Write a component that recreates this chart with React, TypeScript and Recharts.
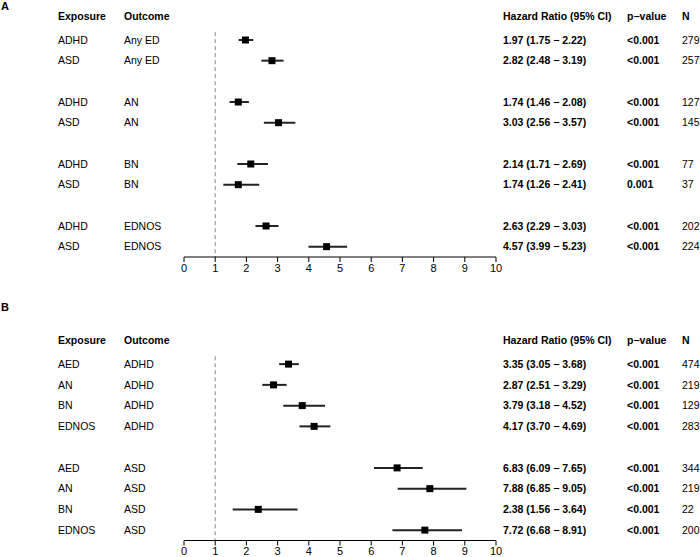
import React from 'react';
import { ScatterChart, Scatter, XAxis, YAxis, ErrorBar, ReferenceLine } from 'recharts';

// Panel A: neurodevelopmental exposure -> eating disorder outcome
const exposuresA = ['ADHD', 'ASD', 'ADHD', 'ASD', 'ADHD', 'ASD', 'ADHD', 'ASD'];
const outcomesA = ['Any ED', 'Any ED', 'AN', 'AN', 'BN', 'BN', 'EDNOS', 'EDNOS'];
const groupsA = [0, 0, 1, 1, 2, 2, 3, 3];
const hrA = [1.97, 2.82, 1.74, 3.03, 2.14, 1.74, 2.63, 4.57];
const loA = [1.75, 2.48, 1.46, 2.56, 1.71, 1.26, 2.29, 3.99];
const hiA = [2.22, 3.19, 2.08, 3.57, 2.69, 2.41, 3.03, 5.23];
const pA = ['<0.001', '<0.001', '<0.001', '<0.001', '<0.001', '0.001', '<0.001', '<0.001'];
const nA = [279, 257, 127, 145, 77, 37, 202, 224];

// Panel B: eating disorder exposure -> neurodevelopmental outcome
const exposuresB = ['AED', 'AN', 'BN', 'EDNOS', 'AED', 'AN', 'BN', 'EDNOS'];
const outcomesB = ['ADHD', 'ADHD', 'ADHD', 'ADHD', 'ASD', 'ASD', 'ASD', 'ASD'];
const groupsB = [0, 0, 0, 0, 1, 1, 1, 1];
const hrB = [3.35, 2.87, 3.79, 4.17, 6.83, 7.88, 2.38, 7.72];
const loB = [3.05, 2.51, 3.18, 3.7, 6.09, 6.85, 1.56, 6.68];
const hiB = [3.68, 3.29, 4.52, 4.69, 7.65, 9.05, 3.64, 8.91];
const pB = ['<0.001', '<0.001', '<0.001', '<0.001', '<0.001', '<0.001', '<0.001', '<0.001'];
const nB = [474, 219, 129, 283, 344, 219, 22, 200];

const xTicks = [0, 1, 2, 3, 4, 5, 6, 7, 8, 9, 10];
const headers = ['Exposure', 'Outcome', 'Hazard Ratio (95% CI)', 'p\u2212value', 'N'];

const HEADER_ROW = -0.15;
const colX = [58, 124, 503, 627, 682];
const FONT = '"Liberation Sans", Arial, Helvetica, sans-serif';

type Row = {
  row: number;
  hr: number;
  ci: [number, number];
  exposure: string;
  outcome: string;
  label: string;
  p: string;
  n: number;
};

const buildRows = (
  exposures: string[], outcomes: string[], groups: number[],
  hr: number[], lo: number[], hi: number[], p: string[], n: number[]
): Row[] =>
  hr.map((v, i) => ({
    row: i + groups[i] + 1,
    hr: v,
    ci: [+(v - lo[i]).toFixed(3), +(hi[i] - v).toFixed(3)],
    exposure: exposures[i],
    outcome: outcomes[i],
    label: `${v.toFixed(2)} (${lo[i].toFixed(2)} \u2212 ${hi[i].toFixed(2)})`,
    p: p[i],
    n: n[i],
  }));

const rowsA = buildRows(exposuresA, outcomesA, groupsA, hrA, loA, hiA, pA, nA);
const rowsB = buildRows(exposuresB, outcomesB, groupsB, hrB, loB, hiB, pB, nB);

const RowTick = (props: any) => {
  const { y, payload, rows } = props;
  const v = payload?.value;
  const common = { fontSize: 10.5, fontFamily: FONT, fill: '#000', dy: '0.35em' };
  if (Math.abs(v - HEADER_ROW) < 1e-6) {
    return (
      <g>
        {headers.map((h, i) => (
          <text key={h} x={colX[i]} y={y} fontWeight="bold" {...common}>{h}</text>
        ))}
      </g>
    );
  }
  const r: Row | undefined = rows.find((d: Row) => d.row === v);
  if (!r) return <g />;
  return (
    <g>
      <text x={colX[0]} y={y} {...common}>{r.exposure}</text>
      <text x={colX[1]} y={y} {...common}>{r.outcome}</text>
      <text x={colX[2]} y={y} fontWeight="bold" {...common}>{r.label}</text>
      <text x={colX[3]} y={y} fontWeight="bold" {...common}>{r.p}</text>
      <text x={colX[4]} y={y} {...common}>{r.n}</text>
    </g>
  );
};

const Marker = (props: any) => {
  const { cx, cy } = props;
  return <rect x={cx - 3.5} y={cy - 3.5} width={7} height={7} fill="#000" />;
};

type PanelProps = {
  rows: Row[];
  maxRow: number;
  height: number;
  top: number;
  axisHeight: number;
};

const Panel = ({ rows, maxRow, height, top, axisHeight }: PanelProps) => {
  const yTicks = [HEADER_ROW, ...rows.map((r) => r.row)];
  return (
    <ScatterChart
      width={700}
      height={height}
      margin={{ top, right: 204, bottom: 0, left: 0 }}
      style={{ overflow: 'visible' }}
    >
      <XAxis
        type="number"
        dataKey="hr"
        domain={[0, 10]}
        ticks={xTicks}
        interval={0}
        tickSize={5}
        stroke="#000"
        tick={{ fill: '#000', fontSize: 11, fontFamily: FONT }}
        height={axisHeight}
      />
      <YAxis
        type="number"
        dataKey="row"
        domain={[-0.5, maxRow + 0.5]}
        reversed
        ticks={yTicks}
        interval={0}
        width={184}
        axisLine={false}
        tickLine={false}
        tick={<RowTick rows={rows} />}
      />
      <ReferenceLine
        segment={[{ x: 1, y: 0.62 }, { x: 1, y: maxRow + 0.5 }]}
        stroke="#888"
        strokeDasharray="4 3"
      />
      <Scatter data={rows} shape={<Marker />} isAnimationActive={false}>
        <ErrorBar
          dataKey="ci"
          direction="x"
          width={0}
          stroke="#222"
          strokeWidth={2}
          isAnimationActive={false}
        />
      </Scatter>
    </ScatterChart>
  );
};

const App = () => {
  return (
    <div
      style={{
        position: 'absolute',
        left: 0,
        top: 0,
        width: 700,
        height: 557,
        background: '#fff',
        fontFamily: FONT,
        overflow: 'hidden',
      }}
    >
      <div style={{ position: 'absolute', left: 1, top: 0, fontWeight: 'bold', fontSize: 11, lineHeight: '12px' }}>A</div>
      <div style={{ position: 'absolute', left: 1, top: 301, fontWeight: 'bold', fontSize: 11, lineHeight: '12px' }}>B</div>
      <div style={{ position: 'absolute', left: 0, top: 0 }}>
        <Panel rows={rowsA} maxRow={11} height={280} top={9} axisHeight={23} />
      </div>
      <div style={{ position: 'absolute', left: 0, top: 280 }}>
        <Panel rows={rowsB} maxRow={9} height={277} top={53} axisHeight={16.5} />
      </div>
    </div>
  );
};

export default App;
